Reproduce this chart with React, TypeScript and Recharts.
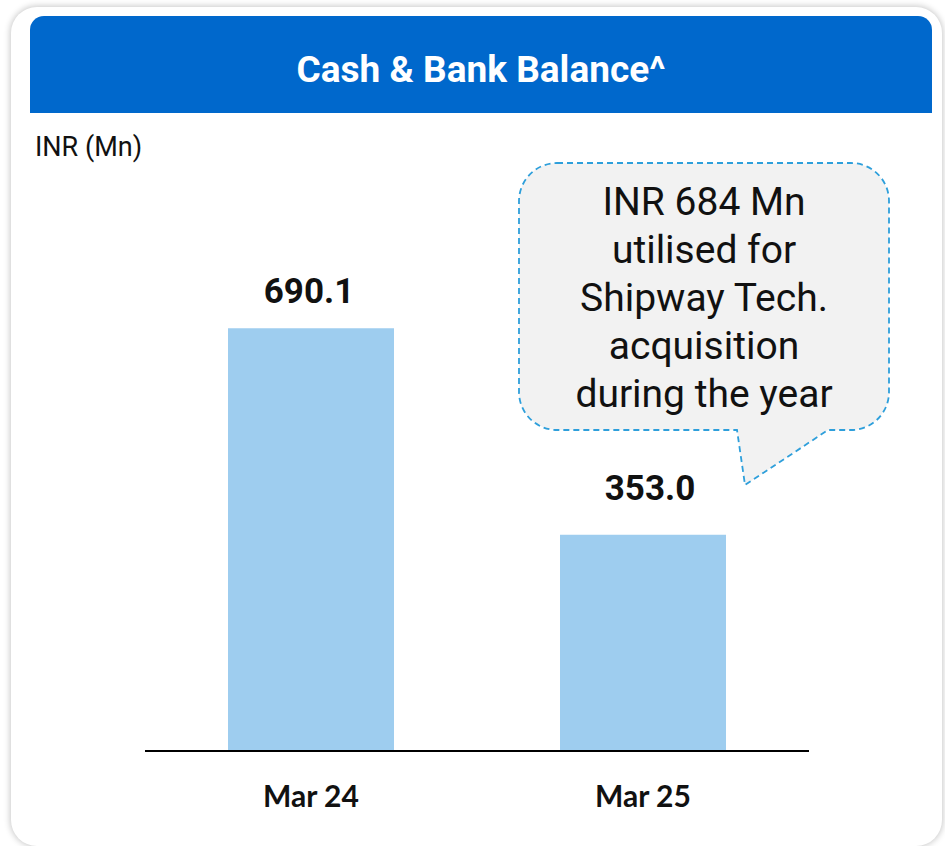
import { BarChart, Bar, XAxis, YAxis, LabelList } from 'recharts'

// values (INR Mn)
const periods = ['Mar 24', 'Mar 25']
const balances = [690.1, 353.0]
const calloutLines = ['INR 684 Mn', 'utilised for', 'Shipway Tech.', 'acquisition', 'during the year']

const chartData = periods.map((p, i) => ({ period: p, balance: balances[i] }))

// gap between bar top and value label baseline (labels sit a bit uneven on the slide)
const labelGaps = [25, 35]
const labelShift = [-2, 7]

const renderValueLabel = (props: any) => {
  const { x, y, width, value, index } = props
  const i = index ?? 0
  const gap = labelGaps[i] ?? 28
  return (
    <text
      x={Number(x) + Number(width) / 2 + (labelShift[i] ?? 0)}
      y={Number(y) - gap}
      textAnchor="middle"
      fontFamily="Roboto, sans-serif"
      fontWeight={700}
      fontSize={35}
      fill="#111"
    >
      {Number(value).toFixed(1)}
    </text>
  )
}

function Backdrop() {
  return (
    <svg width={945} height={846} style={{ position: 'absolute', left: 0, top: 0 }}>
      <text
        x={481}
        y={82}
        textAnchor="middle"
        fontFamily="Roboto, sans-serif"
        fontWeight={700}
        fontSize={37}
        fill="#fff"
      >
        Cash &amp; Bank Balance^
      </text>
      <text x={35} y={156} fontFamily="Roboto, sans-serif" fontSize={27} fill="#111">
        INR (Mn)
      </text>
      {/* speech bubble */}
      <path
        d="M 557 163 H 851 A 38 38 0 0 1 889 201 V 392 A 38 38 0 0 1 851 430 H 828 L 745 485 L 737 430 H 557 A 38 38 0 0 1 519 392 V 201 A 38 38 0 0 1 557 163 Z"
        fill="#F2F2F2"
        stroke="#2E9FDB"
        strokeWidth={1.8}
        strokeDasharray="6 4"
      />
      {calloutLines.map((line, i) => (
        <text
          key={line}
          x={704}
          y={215 + i * 48}
          textAnchor="middle"
          fontFamily="Roboto, sans-serif"
          fontSize={39}
          fill="#111"
        >
          {line}
        </text>
      ))}
    </svg>
  )
}

export default function App() {
  return (
    <div
      style={{
        position: 'absolute',
        left: 0,
        top: 0,
        width: 945,
        height: 846,
        overflow: 'hidden',
        background: '#fff',
      }}
    >
      <div
        style={{
          position: 'absolute',
          left: 11,
          top: 7,
          width: 931,
          height: 839,
          borderRadius: 26,
          background: '#fff',
          boxShadow: '0 0 6px 1px rgba(0,0,0,0.22)',
        }}
      />
      <div
        style={{
          position: 'absolute',
          left: 30,
          top: 16,
          width: 902,
          height: 97,
          borderRadius: '14px 14px 0 0',
          background: '#0068CC',
        }}
      />
      <Backdrop />
      <div style={{ position: 'absolute', left: 0, top: 0 }}>
        <BarChart
          width={945}
          height={846}
          data={chartData}
          margin={{ top: 261, right: 136, left: 145, bottom: 0 }}
          barCategoryGap="25%"
        >
          <XAxis
            dataKey="period"
            height={95}
            axisLine={{ stroke: '#000', strokeWidth: 2 }}
            tickLine={false}
            tickSize={0}
            tickMargin={35}
            tick={{ fontFamily: 'Lato, sans-serif', fontWeight: 700, fontSize: 30, fill: '#111' }}
          />
          <YAxis hide domain={[0, 800]} />
          <Bar dataKey="balance" fill="#9ECDEF" isAnimationActive={false}>
            <LabelList dataKey="balance" content={renderValueLabel} />
          </Bar>
        </BarChart>
      </div>
    </div>
  )
}
